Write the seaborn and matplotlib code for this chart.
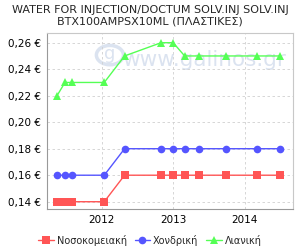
import matplotlib
matplotlib.use("Agg")
import matplotlib.pyplot as plt
import seaborn as sns
import pandas as pd
from matplotlib.lines import Line2D
from matplotlib.patches import Circle

dates = [2011.375, 2011.487, 2011.585, 2012.036, 2012.32, 2012.83, 2013.0,
         2013.16, 2013.36, 2013.74, 2014.17, 2014.50]
hospital = [0.14, 0.14, 0.14, 0.14, 0.16, 0.16, 0.16, 0.16, 0.16, 0.16, 0.16, 0.16]
wholesale = [0.16, 0.16, 0.16, 0.16, 0.18, 0.18, 0.18, 0.18, 0.18, 0.18, 0.18, 0.18]
retail = [0.22, 0.23, 0.23, 0.23, 0.25, 0.26, 0.26, 0.25, 0.25, 0.25, 0.25, 0.25]
series_names = ["Νοσοκομειακή", "Χονδρική", "Λιανική"]
yticks = [0.14, 0.16, 0.18, 0.20, 0.22, 0.24, 0.26]
xticks = [2012, 2013, 2014]
title = "WATER FOR INJECTION/DOCTUM SOLV.INJ SOLV.INJ\nBTX100AMPSX10ML (ΠΛΑΣΤΙΚΕΣ)"

rows = []
for name, vals in zip(series_names, [hospital, wholesale, retail]):
    for d, v in zip(dates, vals):
        rows.append({"date": d, "price": v, "series": name})
df = pd.DataFrame(rows)

sns.set_style("white")
plt.rcParams['font.family'] = ['DejaVu Sans']

fig = plt.figure(figsize=(3.0, 2.5), dpi=100)
ax = fig.add_axes([46.7/300, 1 - 209/250, (292.7-46.7)/300, (209-33.3)/250])

palette = {"Νοσοκομειακή": "#FF5555", "Χονδρική": "#5555FF", "Λιανική": "#55FF55"}
markers = {"Νοσοκομειακή": "s", "Χονδρική": "o", "Λιανική": "^"}

# watermark
ax.text(0.64, 0.85, "www.galinos.gr", transform=ax.transAxes, fontsize=15.5,
        color="#dbe3f0", ha="center", va="center", zorder=0)
ax.add_patch(Circle((0.257, 0.876), 0.055, transform=ax.transAxes, fill=False,
                    edgecolor="#dbe3f0", linewidth=2.5, zorder=0))
ax.text(0.257, 0.88, "g", transform=ax.transAxes, fontsize=13,
        color="#dbe3f0", ha="center", va="center", zorder=0)

sns.lineplot(data=df, x="date", y="price", hue="series", style="series",
             palette=palette, markers=markers, dashes=False, markersize=5.5,
             markeredgewidth=0, linewidth=1, ax=ax, legend=False)

ax.set_xlim(2011.231, 2014.671)
ax.set_ylim(0.1345, 0.2671)
ax.set_xticks(xticks)
ax.set_xticklabels([str(x) for x in xticks], fontsize=7.5)
ax.set_yticks(yticks)
ax.set_yticklabels([f"{v:.2f} €".replace(".", ",") for v in yticks], fontsize=7.5)
ax.set_xlabel("")
ax.set_ylabel("")
ax.grid(True, color="#d0d0d0", linestyle=(0, (3, 3)), linewidth=0.6)
ax.set_axisbelow(True)
for s in ax.spines.values():
    s.set_color("#c8c8c8")
    s.set_linewidth(0.8)
ax.spines["left"].set_color("#999999")
ax.spines["bottom"].set_color("#999999")
ax.tick_params(axis="both", length=2, pad=2, colors="#999999", labelcolor="black")

fig.text(0.5, 1 - 16/250, title, ha="center", va="center", fontsize=8,
         linespacing=1.25)

handles = [Line2D([], [], color=palette[n], marker=markers[n], markersize=5.5,
                  markeredgewidth=0, linewidth=1) for n in series_names]
fig.legend(handles, series_names, loc="center", bbox_to_anchor=(0.5, 1 - 240/250),
           ncol=3, frameon=False, fontsize=7, handlelength=1.6, handletextpad=0.3,
           columnspacing=0.8)

fig.savefig("out.png", dpi=100)
